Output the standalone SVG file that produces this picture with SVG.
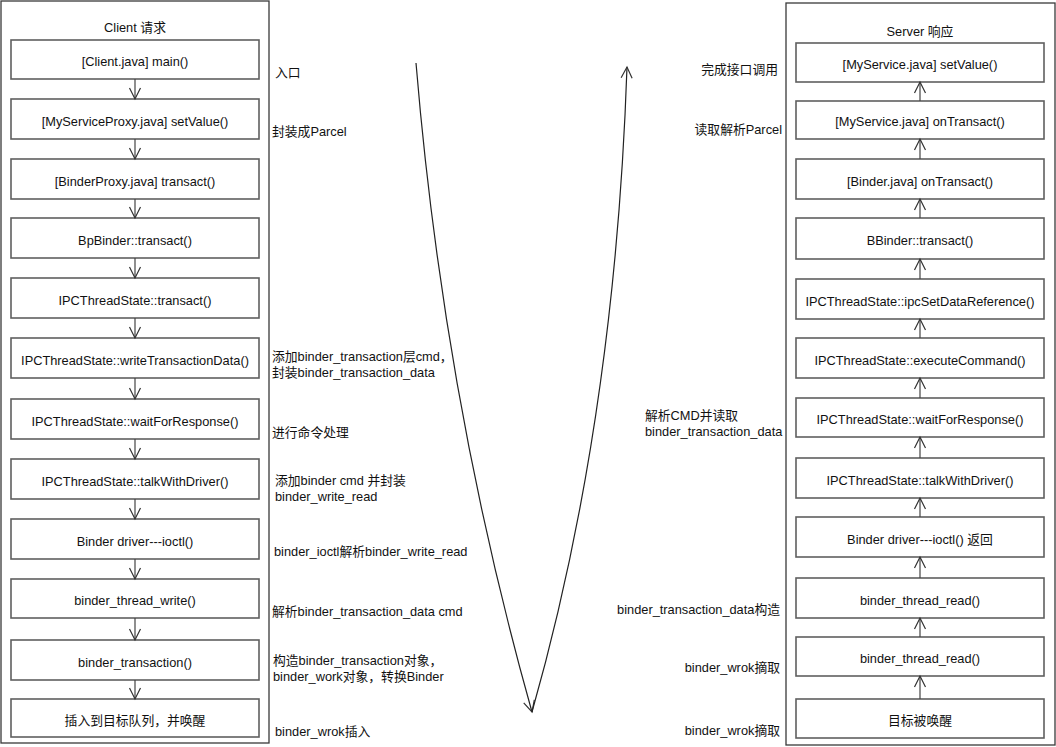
<svg xmlns="http://www.w3.org/2000/svg" width="1056" height="747" viewBox="0 0 1056 747">
<style>
  .cont { fill: #ffffff; stroke: #3a3a3a; stroke-width: 1.3; }
  .box { fill: #ffffff; stroke: #5f5f5f; stroke-width: 1.6; }
  text { font-family: "Liberation Sans", "Noto Sans CJK SC", sans-serif; font-size: 12.8px; fill: #111111; }
  .c { text-anchor: middle; }
  .r { text-anchor: end; }
  .edge { fill: none; stroke: #444444; stroke-width: 1.2; }
  .flow { fill: none; stroke: #222222; stroke-width: 1.2; }
</style>
<defs>
  <marker id="vh" markerUnits="userSpaceOnUse" markerWidth="14" markerHeight="14" viewBox="-12 -7 14 14" refX="0" refY="0" orient="auto">
    <path d="M -11,-5.5 L 0,0 L -11,5.5" fill="none" stroke="#333333" stroke-width="1.2"/>
  </marker>
</defs>
<rect width="1056" height="747" fill="#ffffff"/>

<g id="client">
  <rect class="cont" x="1" y="1" width="268" height="742"/>
  <text class="c" x="135" y="32">Client 请求</text>
</g>
<g id="server">
  <rect class="cont" x="786" y="3" width="269" height="742"/>
  <text class="c" x="920" y="36">Server 响应</text>
</g>

<g id="c1"><rect class="box" x="11" y="40" width="248" height="39"/><text class="c" x="135" y="66">[Client.java] main()</text></g>
<g id="c2"><rect class="box" x="11" y="99" width="248" height="40"/><text class="c" x="135" y="126">[MyServiceProxy.java] setValue()</text></g>
<g id="c3"><rect class="box" x="11" y="159" width="248" height="40"/><text class="c" x="135" y="186">[BinderProxy.java] transact()</text></g>
<g id="c4"><rect class="box" x="11" y="218" width="248" height="40"/><text class="c" x="135" y="245">BpBinder::transact()</text></g>
<g id="c5"><rect class="box" x="11" y="278" width="248" height="40"/><text class="c" x="135" y="305">IPCThreadState::transact()</text></g>
<g id="c6"><rect class="box" x="11" y="338" width="248" height="40"/><text class="c" x="135" y="365">IPCThreadState::writeTransactionData()</text></g>
<g id="c7"><rect class="box" x="11" y="399" width="248" height="40"/><text class="c" x="135" y="426">IPCThreadState::waitForResponse()</text></g>
<g id="c8"><rect class="box" x="11" y="459" width="248" height="40"/><text class="c" x="135" y="486">IPCThreadState::talkWithDriver()</text></g>
<g id="c9"><rect class="box" x="11" y="519" width="248" height="40"/><text class="c" x="135" y="546">Binder driver---ioctl()</text></g>
<g id="c10"><rect class="box" x="11" y="579" width="248" height="39"/><text class="c" x="135" y="605">binder_thread_write()</text></g>
<g id="c11"><rect class="box" x="11" y="640" width="248" height="40"/><text class="c" x="135" y="667">binder_transaction()</text></g>
<g id="c12"><rect class="box" x="11" y="699" width="248" height="38"/><text class="c" x="135" y="725">插入到目标队列，并唤醒</text></g>

<g id="s1"><rect class="box" x="796" y="43" width="248" height="39"/><text class="c" x="920" y="69">[MyService.java] setValue()</text></g>
<g id="s2"><rect class="box" x="796" y="101" width="248" height="38"/><text class="c" x="920" y="126">[MyService.java] onTransact()</text></g>
<g id="s3"><rect class="box" x="796" y="159" width="248" height="40"/><text class="c" x="920" y="186">[Binder.java] onTransact()</text></g>
<g id="s4"><rect class="box" x="796" y="218" width="248" height="41"/><text class="c" x="920" y="245">BBinder::transact()</text></g>
<g id="s5"><rect class="box" x="796" y="279" width="248" height="40"/><text class="c" x="920" y="306">IPCThreadState::ipcSetDataReference()</text></g>
<g id="s6"><rect class="box" x="796" y="338" width="248" height="40"/><text class="c" x="920" y="365">IPCThreadState::executeCommand()</text></g>
<g id="s7"><rect class="box" x="796" y="398" width="248" height="39"/><text class="c" x="920" y="424">IPCThreadState::waitForResponse()</text></g>
<g id="s8"><rect class="box" x="796" y="458" width="248" height="40"/><text class="c" x="920" y="485">IPCThreadState::talkWithDriver()</text></g>
<g id="s9"><rect class="box" x="796" y="517" width="248" height="40"/><text class="c" x="920" y="544">Binder driver---ioctl() 返回</text></g>
<g id="s10"><rect class="box" x="796" y="578" width="248" height="40"/><text class="c" x="920" y="605">binder_thread_read()</text></g>
<g id="s11"><rect class="box" x="796" y="637" width="248" height="39"/><text class="c" x="920" y="663">binder_thread_read()</text></g>
<g id="s12"><rect class="box" x="796" y="699" width="248" height="39"/><text class="c" x="920" y="725">目标被唤醒</text></g>

<g id="connectors">
  <line class="edge" x1="135" y1="79" x2="135" y2="99" marker-end="url(#vh)"/>
  <line class="edge" x1="135" y1="139" x2="135" y2="159" marker-end="url(#vh)"/>
  <line class="edge" x1="135" y1="199" x2="135" y2="218" marker-end="url(#vh)"/>
  <line class="edge" x1="135" y1="258" x2="135" y2="278" marker-end="url(#vh)"/>
  <line class="edge" x1="135" y1="318" x2="135" y2="338" marker-end="url(#vh)"/>
  <line class="edge" x1="135" y1="378" x2="135" y2="399" marker-end="url(#vh)"/>
  <line class="edge" x1="135" y1="439" x2="135" y2="459" marker-end="url(#vh)"/>
  <line class="edge" x1="135" y1="499" x2="135" y2="519" marker-end="url(#vh)"/>
  <line class="edge" x1="135" y1="559" x2="135" y2="579" marker-end="url(#vh)"/>
  <line class="edge" x1="135" y1="618" x2="135" y2="640" marker-end="url(#vh)"/>
  <line class="edge" x1="135" y1="680" x2="135" y2="699" marker-end="url(#vh)"/>

  <line class="edge" x1="920" y1="101" x2="920" y2="82" marker-end="url(#vh)"/>
  <line class="edge" x1="920" y1="159" x2="920" y2="139" marker-end="url(#vh)"/>
  <line class="edge" x1="920" y1="218" x2="920" y2="199" marker-end="url(#vh)"/>
  <line class="edge" x1="920" y1="279" x2="920" y2="259" marker-end="url(#vh)"/>
  <line class="edge" x1="920" y1="338" x2="920" y2="319" marker-end="url(#vh)"/>
  <line class="edge" x1="920" y1="398" x2="920" y2="378" marker-end="url(#vh)"/>
  <line class="edge" x1="920" y1="458" x2="920" y2="437" marker-end="url(#vh)"/>
  <line class="edge" x1="920" y1="517" x2="920" y2="498" marker-end="url(#vh)"/>
  <line class="edge" x1="920" y1="578" x2="920" y2="557" marker-end="url(#vh)"/>
  <line class="edge" x1="920" y1="637" x2="920" y2="618" marker-end="url(#vh)"/>
  <line class="edge" x1="920" y1="699" x2="920" y2="676" marker-end="url(#vh)"/>

  <path class="flow" d="M 416,63 Q 444,400 532,712" marker-end="url(#vh)"/>
  <path class="flow" d="M 532,712 Q 615,420 627,67" marker-end="url(#vh)"/>
</g>

<g id="client-notes">
  <text x="275" y="77">入口</text>
  <text x="272" y="136">封装成Parcel</text>
  <text x="272" y="361">添加binder_transaction层cmd，</text>
  <text x="272" y="377">封装binder_transaction_data</text>
  <text x="272" y="437">进行命令处理</text>
  <text x="275" y="485">添加binder cmd 并封装</text>
  <text x="275" y="501">binder_write_read</text>
  <text x="274" y="556">binder_ioctl解析binder_write_read</text>
  <text x="272" y="616">解析binder_transaction_data cmd</text>
  <text x="273" y="665">构造binder_transaction对象，</text>
  <text x="273" y="681">binder_work对象，转换Binder</text>
  <text x="275" y="736">binder_wrok插入</text>
</g>
<g id="server-notes">
  <text class="r" x="778" y="74">完成接口调用</text>
  <text class="r" x="782" y="134">读取解析Parcel</text>
  <text x="645" y="420">解析CMD并读取</text>
  <text x="645" y="436">binder_transaction_data</text>
  <text class="r" x="780" y="614">binder_transaction_data构造</text>
  <text class="r" x="780" y="672">binder_wrok摘取</text>
  <text class="r" x="780" y="735">binder_wrok摘取</text>
</g>
</svg>
